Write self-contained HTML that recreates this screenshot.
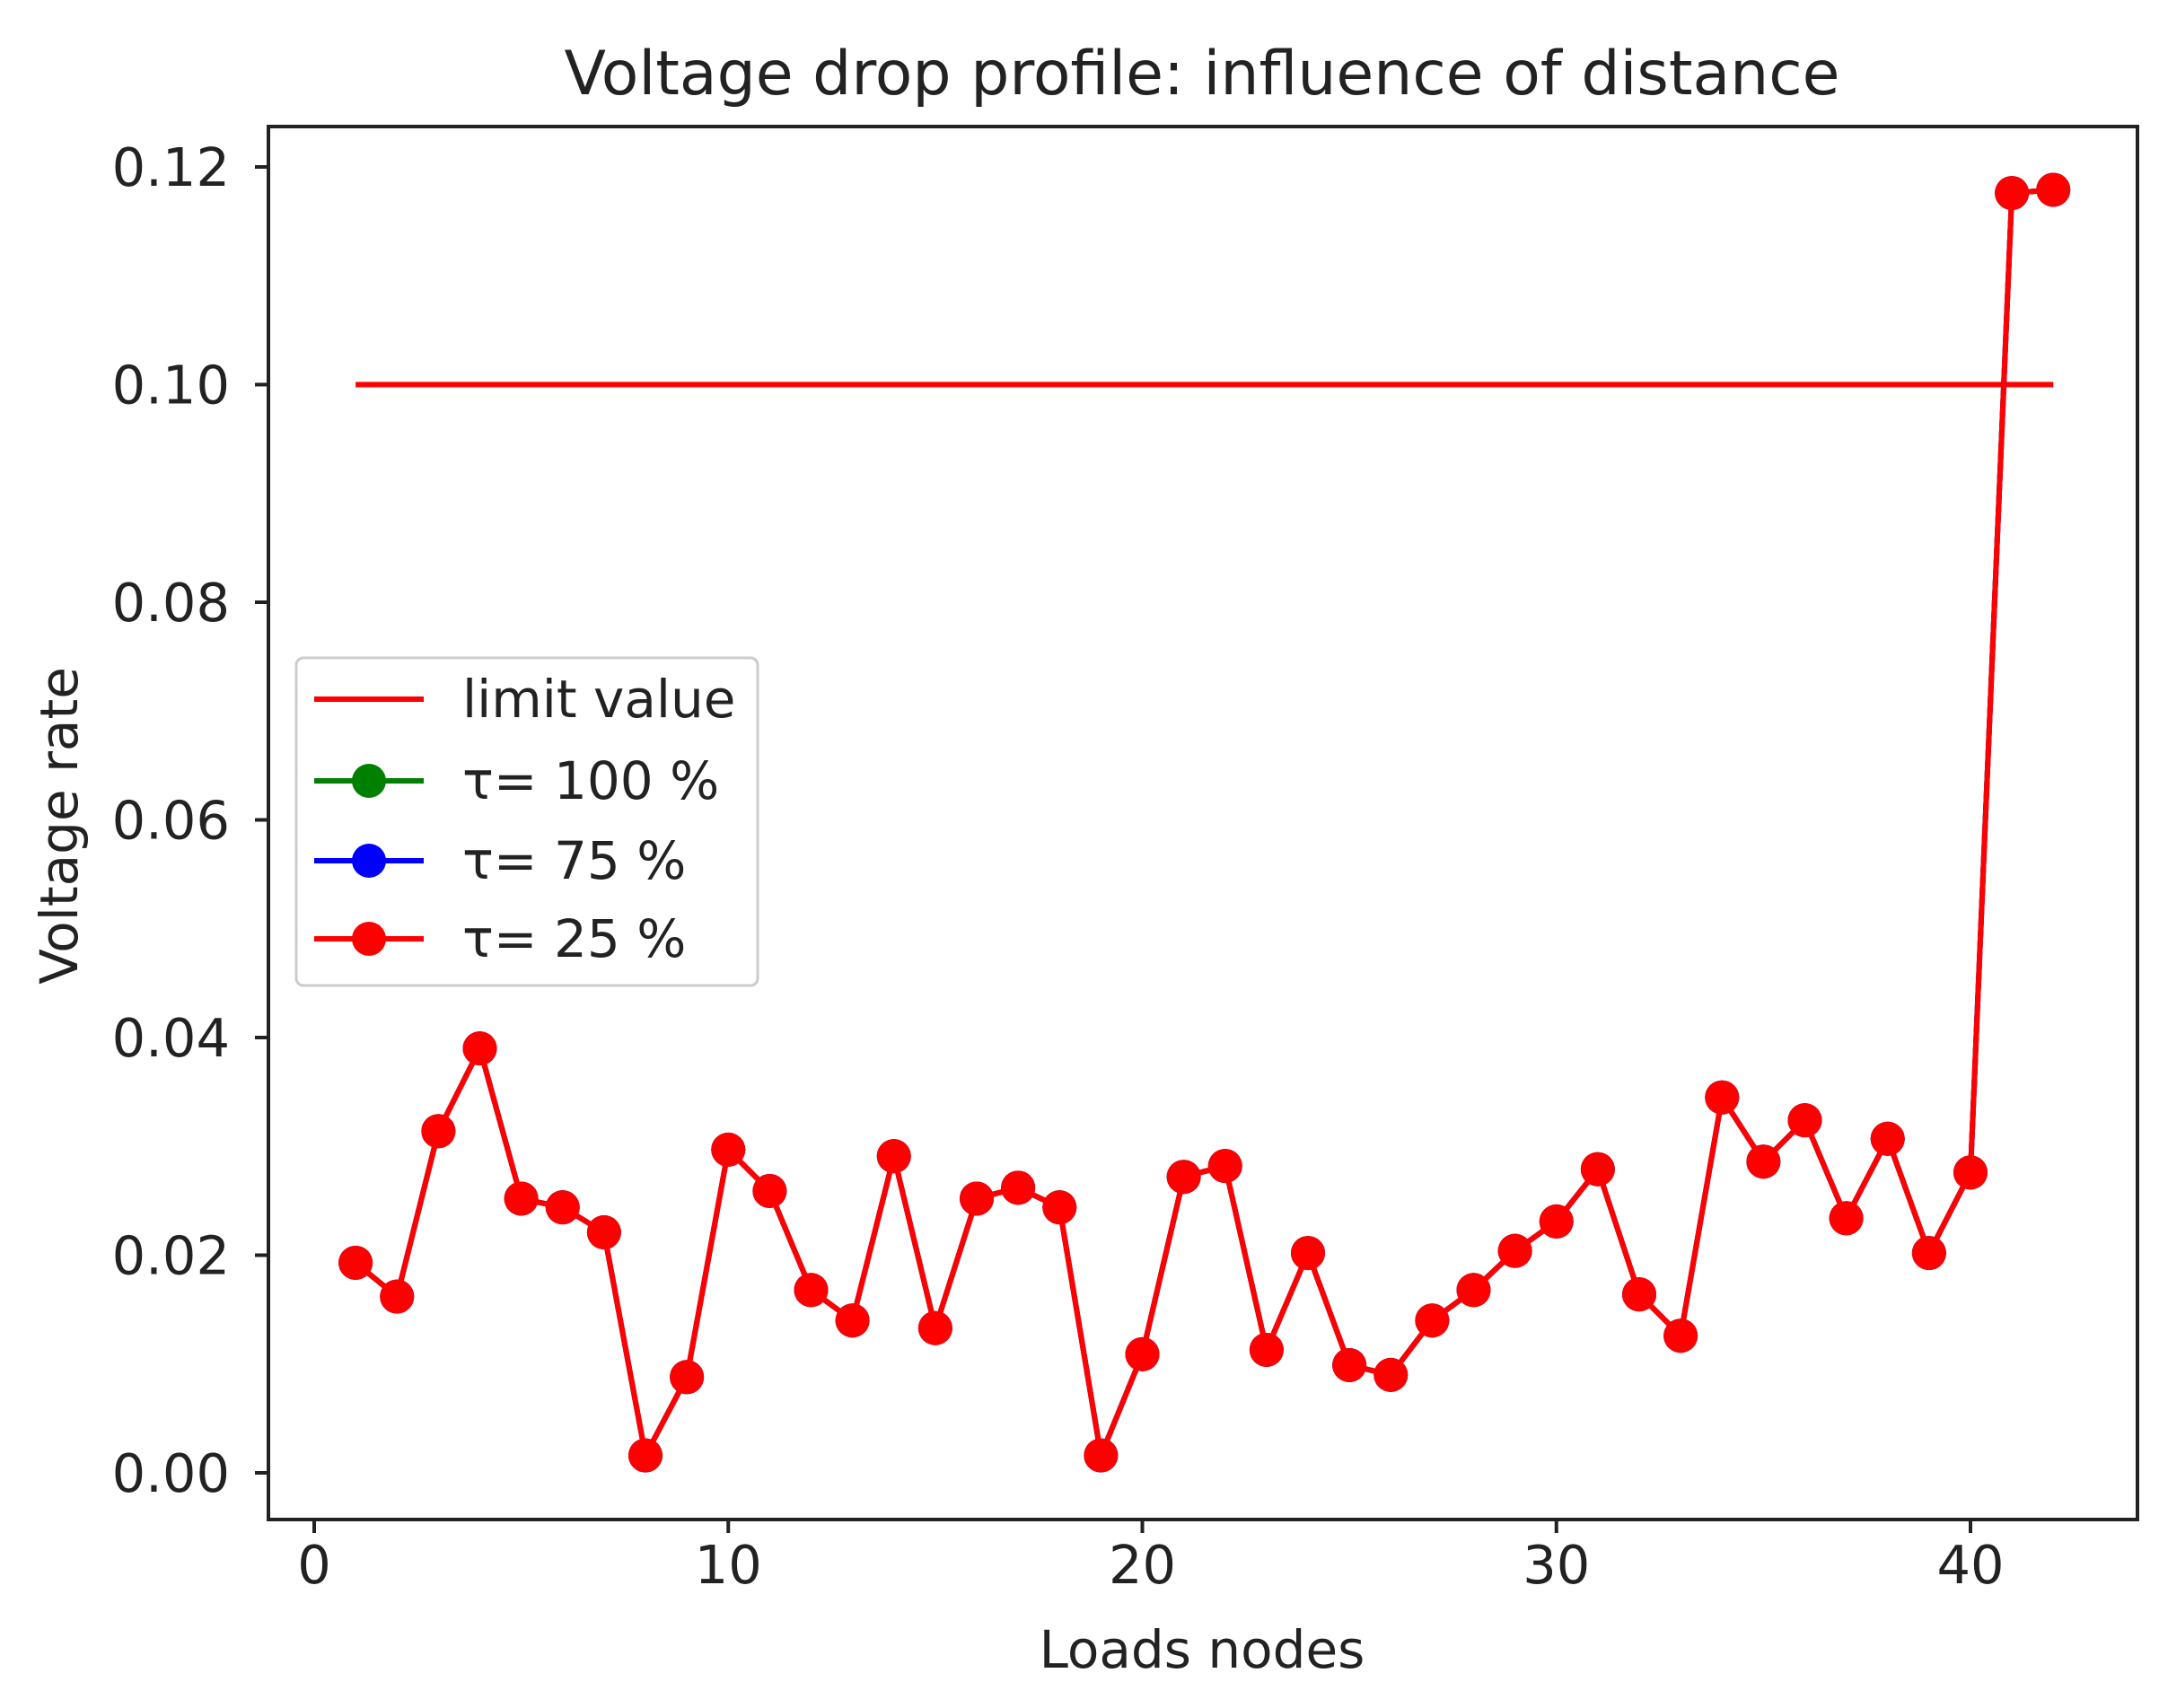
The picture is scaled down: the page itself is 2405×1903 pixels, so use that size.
<!DOCTYPE html>
<html><head><meta charset="utf-8"><style>
html,body{margin:0;padding:0;background:#fff;}
svg{display:block;font-family:"DejaVu Sans","Liberation Sans",sans-serif;}
</style></head><body>
<svg id="chart" width="2405" height="1903" viewBox="0 0 2405 1903" xmlns="http://www.w3.org/2000/svg">
<rect width="2405" height="1903" fill="#fff"/>
<text x="1339" y="105" font-size="68" text-anchor="middle" fill="#222">Voltage drop profile: influence of distance</text>
<g id="plot"></g>
<rect x="299" y="141" width="2082" height="1552" fill="none" stroke="#222" stroke-width="4"/>
<text x="1339" y="1858" font-size="58" text-anchor="middle" fill="#222">Loads nodes</text>
<text transform="translate(86,920) rotate(-90)" font-size="58" text-anchor="middle" fill="#222">Voltage rate</text>
<g id="legend">
<rect x="330" y="733" width="514" height="365" rx="8" fill="#fff" fill-opacity="0.85" stroke="#ccc" stroke-width="3"/>
<g><line x1="350" y1="779" x2="472" y2="779" stroke="#f00" stroke-width="6"/><text x="515" y="799" font-size="58" fill="#222">limit value</text></g>
<g><line x1="350" y1="870" x2="472" y2="870" stroke="#008000" stroke-width="6"/><circle cx="411" cy="870" r="19" fill="#008000"/><text x="515" y="890" font-size="58" fill="#222">τ= 100 %</text></g>
<g><line x1="350" y1="959" x2="472" y2="959" stroke="#00f" stroke-width="6"/><circle cx="411" cy="959" r="19" fill="#00f"/><text x="515" y="979" font-size="58" fill="#222">τ= 75 %</text></g>
<g><line x1="350" y1="1046" x2="472" y2="1046" stroke="#f00" stroke-width="6"/><circle cx="411" cy="1046" r="19" fill="#f00"/><text x="515" y="1066" font-size="58" fill="#222">τ= 25 %</text></g>
</g>
</svg>
<script>
const nodes = [1,2,3,4,5,6,7,8,9,10,11,12,13,14,15,16,17,18,19,20,21,22,23,24,25,26,27,28,29,30,31,32,33,34,35,36,37,38,39,40,41,42];
const tau25 = [0.0193,0.0162,0.0314,0.039,0.0252,0.0244,0.0221,0.0016,0.0088,0.0297,0.0259,0.0168,0.014,0.0291,0.0133,0.0252,0.0262,0.0244,0.0016,0.0109,0.0272,0.0282,0.0113,0.0202,0.0099,0.009,0.014,0.0168,0.0204,0.0231,0.0279,0.0164,0.0126,0.0345,0.0286,0.0324,0.0234,0.0307,0.0202,0.0276,0.1176,0.1179];
const tau75 = tau25.slice();
const tau100 = tau25.slice();
const limitValue = 0.1;
const xTicks = [0,10,20,30,40];
const yTicks = [0,0.02,0.04,0.06,0.08,0.10,0.12];
const yTickLabels = ["0.00","0.02","0.04","0.06","0.08","0.10","0.12"];

const NS="http://www.w3.org/2000/svg";
function xs(v){return 350 + v*(2195-350)/40;}
function ys(v){return 1641 - v*(1641-186)/0.12;}
const plot=document.getElementById('plot');
function mk(t,a){const e=document.createElementNS(NS,t);for(const k in a)e.setAttribute(k,a[k]);return e;}

yTicks.forEach((v,i)=>{
  const g=mk('g',{});
  
  
  g.appendChild(mk('line',{x1:284,x2:299,y1:ys(v),y2:ys(v),stroke:'#222','stroke-width':4}));
  const t=mk('text',{x:256,y:ys(v)+21,'font-size':59,'text-anchor':'end',fill:'#222'});
  t.textContent=yTickLabels[i];g.appendChild(t);plot.appendChild(g);
});
xTicks.forEach(v=>{
  const g=mk('g',{});
  
  
  g.appendChild(mk('line',{x1:xs(v),x2:xs(v),y1:1693,y2:1708,stroke:'#222','stroke-width':4}));
  const t=mk('text',{x:xs(v),y:1764,'font-size':59,'text-anchor':'middle',fill:'#222'});
  t.textContent=String(v);g.appendChild(t);plot.appendChild(g);
});
const lim=mk('line',{x1:xs(nodes[0]),x2:xs(nodes[nodes.length-1]),y1:ys(limitValue),y2:ys(limitValue),stroke:'#f00','stroke-width':6});


plot.appendChild(lim);
function series(vals,color,name){
  const g=mk('g',{});
  
  
  const pts=vals.map((v,i)=>xs(nodes[i])+','+ys(v)).join(' ');
  g.appendChild(mk('polyline',{points:pts,fill:'none',stroke:color,'stroke-width':6,'stroke-linejoin':'round'}));
  vals.forEach((v,i)=>{
    const c=mk('circle',{cx:xs(nodes[i]),cy:ys(v),r:19,fill:color});
    
    
    g.appendChild(c);
  });
  plot.appendChild(g);
}
series(tau100,'#008000','series-tau-100');
series(tau75,'#0000ff','series-tau-75');
series(tau25,'#ff0000','series-tau-25');
</script>
</body></html>
